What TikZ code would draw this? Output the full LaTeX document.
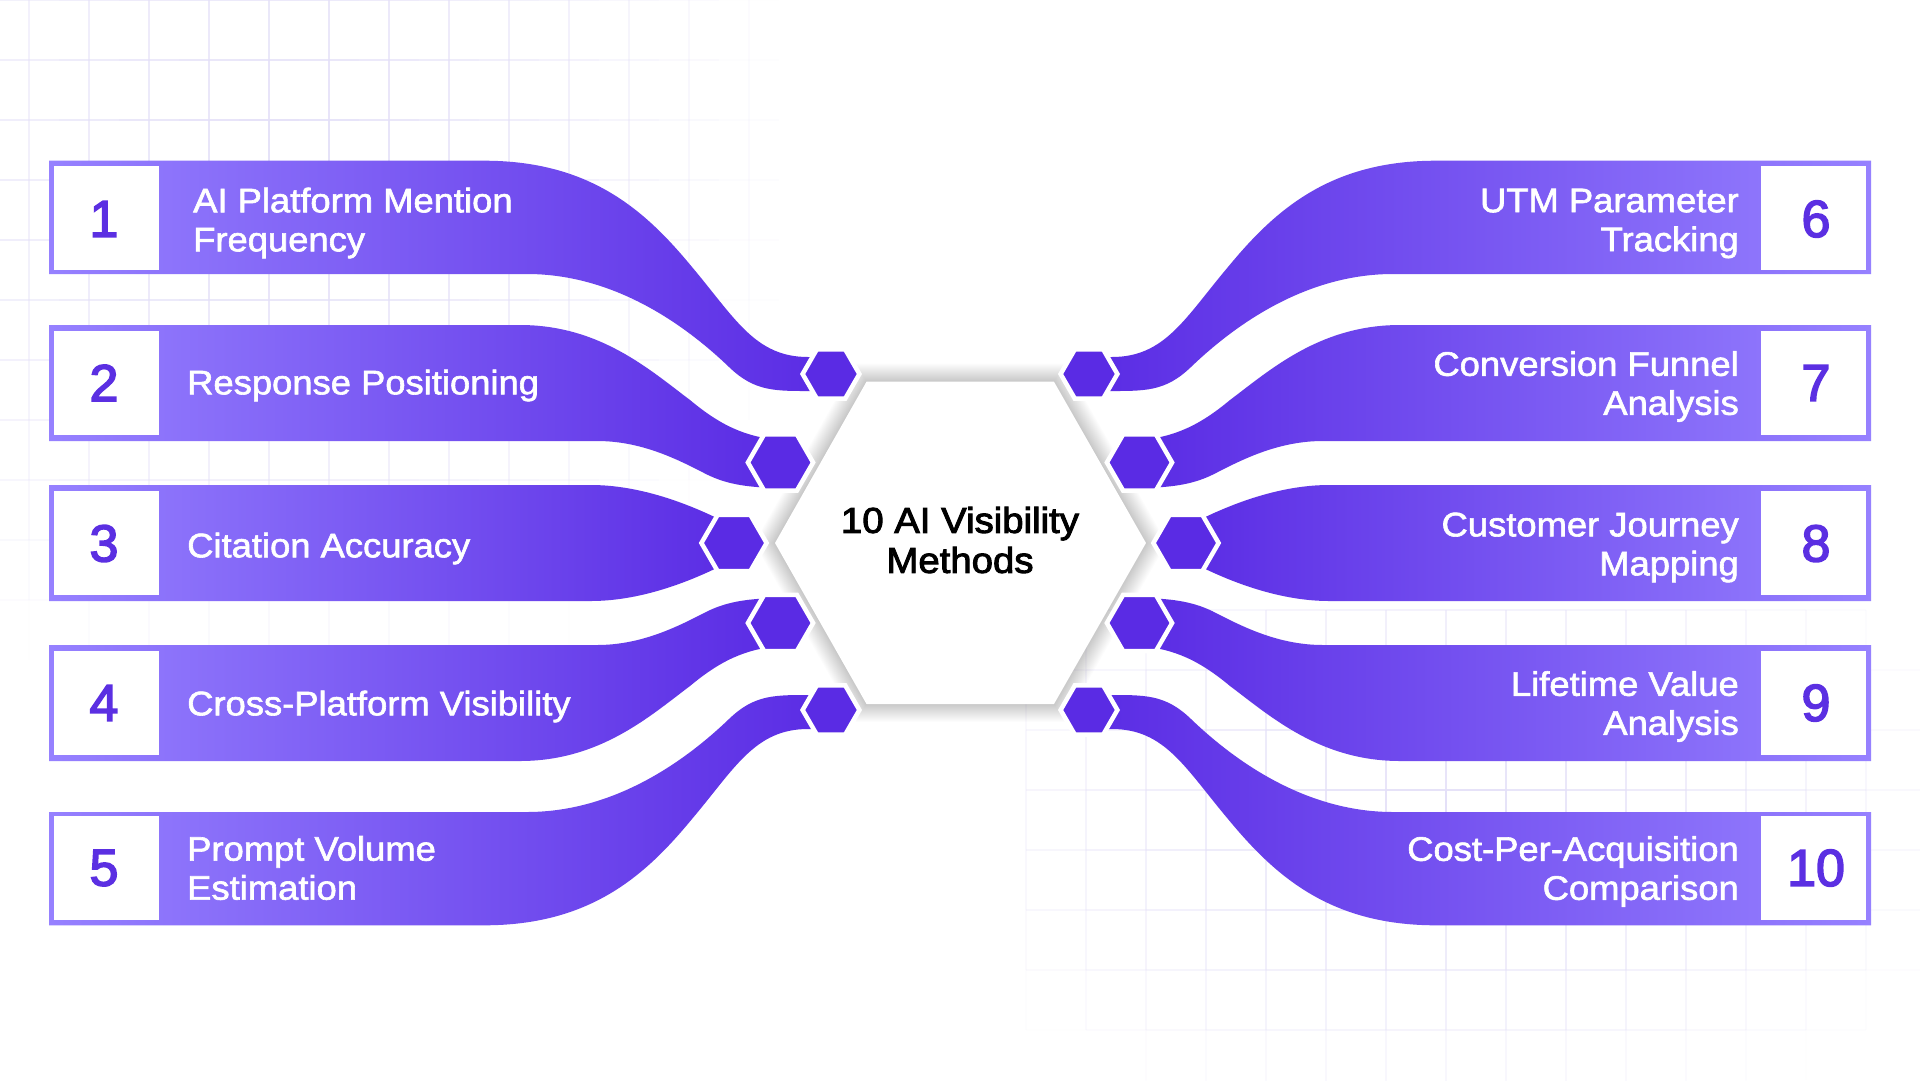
\documentclass[tikz,border=0pt]{standalone}
\usepackage{fontspec}
\usetikzlibrary{shapes.geometric}
\setmainfont{Liberation Sans}
\newfontfamily\labfont[FakeBold=1.8,FakeStretch=1.07]{Liberation Sans}
\newfontfamily\numfont[FakeBold=3]{Liberation Sans}
\newfontfamily\titlefont[FakeBold=2.6,FakeStretch=1.065]{Liberation Sans}
\definecolor{gridc}{HTML}{E4E0F8}
\definecolor{light}{HTML}{9681FF}
\definecolor{midc}{HTML}{8870FB}
\definecolor{deep}{HTML}{5A2BE4}
\definecolor{tick}{HTML}{5B2FE2}
\tikzset{
  numbox/.style={fill=white,draw=none,inner sep=0,outer sep=0,minimum width=105pt,minimum height=104pt},
  numlab/.style={text=tick,inner sep=0,font=\numfont\fontsize{52}{52}\selectfont},
  lableft/.style={text=white,inner sep=0,anchor=west,align=left,font=\labfont\fontsize{34}{39}\selectfont},
  labright/.style={text=white,inner sep=0,anchor=east,align=right,font=\labfont\fontsize{34}{39}\selectfont},
  hexa/.style={regular polygon,regular polygon sides=6,fill=deep,draw=white,line width=4.5pt,inner sep=0,outer sep=0},
  hexsmall/.style={hexa,minimum size=56.8pt},
  hexbig/.style={hexa,minimum size=65.2pt},
  bandl/.style={left color=light,middle color=midc,right color=deep,draw=none},
  bandr/.style={left color=deep,middle color=midc,right color=light,draw=none},
}
\newcommand\bandA{(49,160.7) -- (484,160.7) .. controls (590,160.7) and (645,210) .. (692,267) .. controls (735,318) and (755,357) .. (808,357) -- (831,357) -- (831,391) -- (814,391) .. controls (775,391) and (755,392) .. (729,367) .. controls (680,320) and (610,274) .. (527,274) -- (49,274) -- cycle}
\newcommand\bandB{(49,325) -- (520,325) .. controls (600,325) and (650,370) .. (690,400) .. controls (720,425) and (745,437) .. (780,440) -- (780,488) -- (775,488) .. controls (745,487) and (725,484) .. (704,473) .. controls (675,458) and (640,441) .. (597,441) -- (49,441) -- cycle}
\newcommand\bandC{(49,485) -- (591,485) .. controls (630,485) and (680,497) .. (740,530) -- (740,556) .. controls (680,589) and (630,601) .. (591,601) -- (49,601) -- cycle}
\newcommand\gridcell[3]{%
  \pgfmathsetmacro\gridw{max(0,min(1,#3))}%
  \ifdim\gridw pt>0.01pt \draw[gridc,line width=1.1pt,opacity=\gridw] #1 -- #2; \fi}
\begin{document}
\begin{tikzpicture}[x=1pt,y=-1pt]
\useasboundingbox (0,0) rectangle (1920,1080);
\fill[white] (0,0) rectangle (1920,1080);
% background grids
\foreach \ci in {0,...,12}{\foreach \cj in {0,...,11}{
  \pgfmathsetmacro\px{29+60*\ci}\pgfmathsetmacro\py{60*\cj}
  \pgfmathsetmacro\pxx{\px+60}\pgfmathsetmacro\pyy{\py+60}
  \pgfmathsetmacro\wta{1.0-veclen((\px+30-300)/520,(\py-170)/560)}
  \gridcell{(\px-30,\py)}{(\px+30,\py)}{\wta}
  \pgfmathsetmacro\wtb{1.0-veclen((\px-300)/520,(\py+30-170)/560)}
  \gridcell{(\px,\py)}{(\px,\pyy)}{\wtb}
}}
\foreach \ci in {0,...,15}{\foreach \cj in {0,...,8}{
  \pgfmathsetmacro\px{1026+60*\ci}\pgfmathsetmacro\py{610+60*\cj}
  \pgfmathsetmacro\pyy{\py+60}
  \pgfmathsetmacro\wta{1.0-veclen((\px+30-1450)/560,(\py-810)/330)}
  \gridcell{(\px,\py)}{(\px+60,\py)}{\wta}
  \pgfmathsetmacro\wtb{1.0-veclen((\px-1450)/560,(\py+30-810)/330)}
  \gridcell{(\px,\py)}{(\px,\pyy)}{\wtb}
}}
% central hexagon shadow
\foreach \shw in {36,34,...,2}{
  \draw[black,opacity=0.013,line width=\shw pt,line join=miter] (866.5,381.7) -- (1054,381.7) -- (1146,543) -- (1054,704) -- (866.5,704) -- (775,543) -- cycle;
}
\fill[white] (866.5,381.7) -- (1054,381.7) -- (1146,543) -- (1054,704) -- (866.5,704) -- (775,543) -- cycle;
\node[inner sep=0,align=center,text=black,font=\titlefont\fontsize{36}{40}\selectfont] (title) at (960,540) {10 AI Visibility\\Methods};
% left bands
\shade[bandl] \bandA;
\shade[bandl] \bandB;
\shade[bandl] \bandC;
\begin{scope}[shift={(0,1086)},yscale=-1]
\shade[bandl] \bandB;
\shade[bandl] \bandA;
\end{scope}
% right bands
\begin{scope}[shift={(1920,0)},xscale=-1]
\shade[bandr] \bandA;
\shade[bandr] \bandB;
\shade[bandr] \bandC;
\begin{scope}[shift={(0,1086)},yscale=-1]
\shade[bandr] \bandB;
\shade[bandr] \bandA;
\end{scope}
\end{scope}
% connector hexagons
\node[hexsmall] (h1) at (831,374) {};
\node[hexbig] (h2) at (780.5,462.5) {};
\node[hexbig] (h3) at (734,543) {};
\node[hexbig] (h4) at (780.5,623) {};
\node[hexsmall] (h5) at (831,710) {};
\node[hexsmall] (h6) at (1089,374) {};
\node[hexbig] (h7) at (1139.5,462.5) {};
\node[hexbig] (h8) at (1186,543) {};
\node[hexbig] (h9) at (1139.5,623) {};
\node[hexsmall] (h10) at (1089,710) {};
% number boxes
\node[numbox] (b1) at (106.5,217.7) {};
\node[numbox] (b2) at (106.5,383) {};
\node[numbox] (b3) at (106.5,543) {};
\node[numbox] (b4) at (106.5,703) {};
\node[numbox] (b5) at (106.5,868.3) {};
\node[numbox] (b6) at (1813.5,217.7) {};
\node[numbox] (b7) at (1813.5,383) {};
\node[numbox] (b8) at (1813.5,543) {};
\node[numbox] (b9) at (1813.5,703) {};
\node[numbox] (b10) at (1813.5,868.3) {};
\node[numlab] (n1) at (104,219) {1};
\node[numlab] (n2) at (104,383) {2};
\node[numlab] (n3) at (104,543.5) {3};
\node[numlab] (n4) at (104,703) {4};
\node[numlab] (n5) at (104,868) {5};
\node[numlab] (n6) at (1816,219) {6};
\node[numlab] (n7) at (1816,383) {7};
\node[numlab] (n8) at (1816,543.5) {8};
\node[numlab] (n9) at (1816,703) {9};
\node[numlab] (n10) at (1816,868) {10};
% labels
\node[lableft] (l1) at (193,223) {AI Platform Mention\\Frequency};
\node[lableft] (l2) at (187,385.5) {Response Positioning};
\node[lableft] (l3) at (187,548.5) {Citation Accuracy};
\node[lableft] (l4) at (187,706.5) {Cross-Platform Visibility};
\node[lableft] (l5) at (187,868) {Prompt Volume\\Estimation};
\node[labright] (l6) at (1739,223.5) {UTM Parameter\\Tracking};
\node[labright] (l7) at (1739,386.5) {Conversion Funnel\\Analysis};
\node[labright] (l8) at (1739,547.5) {Customer Journey\\Mapping};
\node[labright] (l9) at (1739,706.5) {Lifetime Value\\Analysis};
\node[labright] (l10) at (1739,871.5) {Cost-Per-Acquisition\\Comparison};
\end{tikzpicture}
\end{document}
